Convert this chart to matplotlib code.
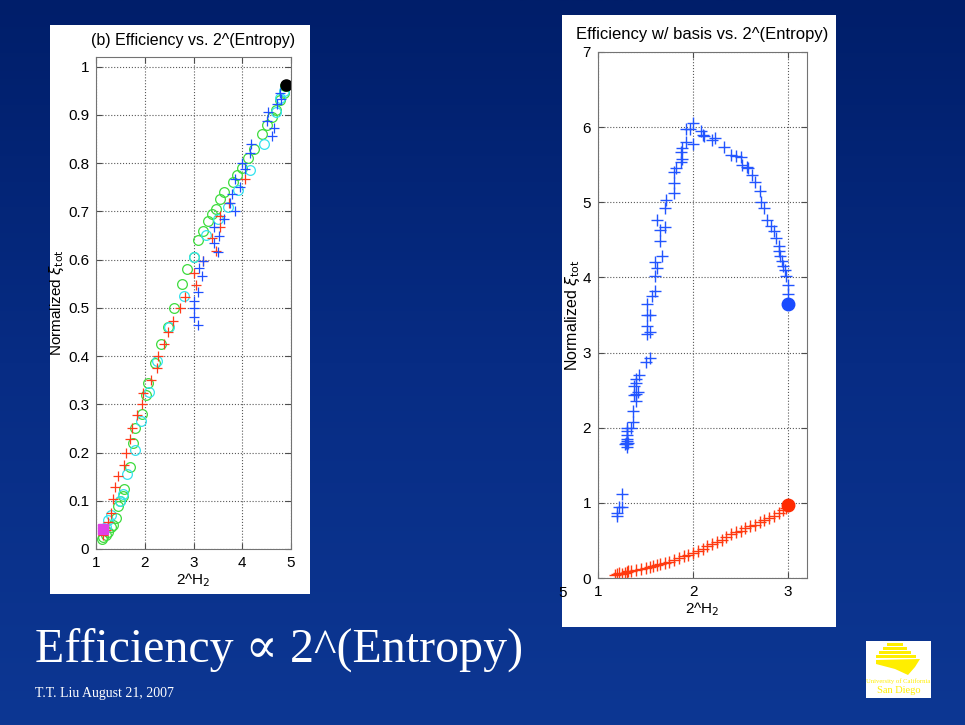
import numpy as np
import matplotlib.pyplot as plt
from matplotlib.patches import Rectangle, Polygon
from matplotlib.colors import LinearSegmentedColormap

plt.rcParams['font.family'] = ['Liberation Sans', 'DejaVu Sans']

# ---- left plot: (b) Efficiency vs. 2^(Entropy) ----
green_x = [1.12, 1.15, 1.2, 1.25, 1.3, 1.35, 1.4, 1.45, 1.5, 1.55, 1.58, 1.7, 1.75, 1.8,
           1.95, 2.03, 2.07, 2.2, 2.33, 2.48, 2.6, 2.77, 2.87, 3.0, 3.1, 3.2, 3.3, 3.37,
           3.47, 3.55, 3.63, 3.8, 3.9, 4.0, 4.12, 4.25, 4.4, 4.5, 4.6, 4.7, 4.78, 4.85, 4.88]
green_y = [0.02, 0.025, 0.03, 0.035, 0.045, 0.05, 0.065, 0.09, 0.1, 0.11, 0.125, 0.17, 0.22, 0.25,
           0.28, 0.32, 0.345, 0.385, 0.425, 0.46, 0.5, 0.55, 0.58, 0.605, 0.64, 0.66, 0.68, 0.695,
           0.705, 0.725, 0.74, 0.76, 0.775, 0.79, 0.81, 0.83, 0.86, 0.88, 0.895, 0.91, 0.93, 0.945, 0.96]
cyan_x = [1.2, 1.25, 1.3, 1.5, 1.55, 1.63, 1.8, 1.93, 2.08, 2.25, 2.5, 2.8, 3.02, 3.25,
          3.5, 3.7, 3.92, 4.15, 4.45, 4.7, 4.78, 4.85]
cyan_y = [0.045, 0.06, 0.07, 0.1, 0.115, 0.155, 0.205, 0.265, 0.325, 0.39, 0.46, 0.525, 0.605, 0.65,
          0.685, 0.71, 0.745, 0.785, 0.84, 0.905, 0.935, 0.95]
red_x = [1.15, 1.2, 1.25, 1.3, 1.35, 1.38, 1.45, 1.58, 1.62, 1.7, 1.73, 1.85, 1.95, 1.97,
         2.12, 2.25, 2.27, 2.4, 2.48, 2.58, 2.72, 2.83, 3.0, 3.05, 3.2, 3.38, 3.47, 3.55,
         3.72, 4.05, 3.55]
red_y = [0.03, 0.04, 0.055, 0.075, 0.103, 0.128, 0.152, 0.175, 0.2, 0.228, 0.25, 0.277, 0.3, 0.323,
         0.35, 0.375, 0.4, 0.425, 0.45, 0.472, 0.5, 0.523, 0.572, 0.548, 0.598, 0.645, 0.618, 0.668,
         0.718, 0.767, 0.69]
blue_x = [3.0, 3.02, 3.0, 3.1, 3.1, 3.18, 3.12, 3.2, 3.42, 3.5, 3.52, 3.42, 3.63, 3.75,
          3.78, 3.85, 3.95, 3.85, 4.0, 4.05, 4.15, 4.18, 4.52, 4.5, 4.6, 4.65, 4.72, 4.78, 4.8]
blue_y = [0.48, 0.5, 0.515, 0.465, 0.533, 0.565, 0.582, 0.597, 0.635, 0.615, 0.648, 0.668, 0.685, 0.718,
          0.735, 0.7, 0.75, 0.768, 0.8, 0.788, 0.82, 0.84, 0.905, 0.888, 0.857, 0.872, 0.922, 0.945, 0.932]
end_pt = (4.9, 0.962)
start_pt = (1.15, 0.042)

# ---- right plot: Efficiency w/ basis vs. 2^(Entropy) ----
bas_x = [1.2, 1.22, 1.25, 1.25, 1.2,
         1.3, 1.3, 1.29, 1.31, 1.3, 1.3, 1.31, 1.3, 1.28, 1.32,
         1.35, 1.37, 1.37, 1.4, 1.4, 1.42, 1.38, 1.38, 1.4, 1.4, 1.43, 1.5, 1.55, 1.55,
         1.52, 1.52, 1.55, 1.52, 1.52, 1.57, 1.6, 1.6, 1.62, 1.6, 1.67, 1.65, 1.65, 1.62,
         1.7, 1.7, 1.72, 1.8, 1.8, 1.8, 1.82, 1.87, 1.88, 1.87, 1.88, 1.93, 1.93, 1.97,
         2.0, 2.0, 2.08, 2.1, 2.12, 2.2, 2.23, 2.33, 2.4, 2.45, 2.5, 2.52, 2.57, 2.58,
         2.62, 2.65, 2.7, 2.72, 2.75, 2.78, 2.82, 2.85, 2.87, 2.9, 2.9, 2.92, 2.94, 2.95,
         2.97, 2.98, 3.0, 3.0]
bas_y = [0.87, 0.95, 0.95, 1.12, 0.83,
         1.75, 1.78, 1.8, 1.82, 1.85, 1.9, 1.95, 2.0, 1.78, 1.8,
         2.0, 2.07, 2.22, 2.35, 2.45, 2.48, 2.43, 2.55, 2.6, 2.65, 2.7, 2.87, 2.93, 3.27,
         3.25, 3.35, 3.5, 3.5, 3.65, 3.75, 3.82, 4.02, 4.13, 4.2, 4.28, 4.48, 4.63, 4.77,
         4.67, 4.93, 5.03, 5.13, 5.25, 5.4, 5.45, 5.53, 5.57, 5.67, 5.72, 5.8, 5.97, 5.97,
         6.05, 5.78, 5.95, 5.9, 5.88, 5.83, 5.85, 5.73, 5.63, 5.62, 5.6, 5.5, 5.47, 5.45,
         5.36, 5.27, 5.15, 5.0, 4.92, 4.77, 4.68, 4.62, 4.52, 4.42, 4.35, 4.28, 4.22, 4.15,
         4.1, 4.02, 3.9, 3.78]
nob_x = [1.18, 1.2, 1.22, 1.25, 1.28, 1.3, 1.32, 1.35, 1.4, 1.45, 1.5, 1.55, 1.58, 1.62,
         1.65, 1.7, 1.75, 1.8, 1.85, 1.9, 1.95, 2.0, 2.05, 2.1, 2.15, 2.2, 2.25, 2.3,
         2.35, 2.4, 2.45, 2.5, 2.55, 2.6, 2.65, 2.7, 2.75, 2.8, 2.85, 2.9, 2.95, 2.98]
nob_y = [0.04, 0.05, 0.06, 0.05, 0.07, 0.08, 0.09, 0.09, 0.1, 0.12, 0.13, 0.15, 0.16, 0.17,
         0.19, 0.2, 0.21, 0.24, 0.26, 0.29, 0.31, 0.33, 0.36, 0.39, 0.42, 0.45, 0.48, 0.51,
         0.55, 0.58, 0.61, 0.63, 0.66, 0.69, 0.71, 0.74, 0.77, 0.8, 0.83, 0.87, 0.9, 0.93]
bas_end = (3.0, 3.65)
nob_end = (3.0, 0.97)

fig = plt.figure(figsize=(9.65, 7.25), dpi=100)

# slide background
bg = fig.add_axes([0, 0, 1, 1], zorder=-10)
grad = np.linspace(0, 1, 256).reshape(-1, 1)
cm = LinearSegmentedColormap.from_list('slide', ['#001e6a', '#072c84', '#0d3793'])
bg.imshow(grad, aspect='auto', cmap=cm, extent=[0, 1, 0, 1], origin='upper')
bg.set_axis_off()

W, H = 965.0, 725.0
def fx(px):
    return px / W
def fy(py):
    return 1 - py / H

# white panels
fig.patches.append(Rectangle((fx(50), fy(594)), 260 / W, 569 / H, transform=fig.transFigure,
                             facecolor='white', edgecolor='none', zorder=-5))
fig.patches.append(Rectangle((fx(562), fy(627)), 274 / W, 612 / H, transform=fig.transFigure,
                             facecolor='white', edgecolor='none', zorder=-5))

def style(ax):
    ax.set_facecolor('white')
    ax.grid(True, linestyle=':', color='0.35', linewidth=0.8)
    ax.tick_params(direction='in', top=True, right=True, length=4, labelsize=11, pad=5,
                   color='0.3')
    for s in ax.spines.values():
        s.set_color('0.45')
        s.set_linewidth(0.8)
    ax.set_axisbelow(True)

# left axes
ax1 = fig.add_axes([fx(96), fy(549), 195 / W, 492 / H])
style(ax1)
ax1.plot(green_x, green_y, 'o', mfc='none', mec='#3ddc3d', ms=7, mew=0.9)
ax1.plot(cyan_x, cyan_y, 'o', mfc='none', mec='#33e2ee', ms=7, mew=0.9)
ax1.plot(red_x, red_y, '+', color='#ff3a1a', ms=7.5, mew=0.9)
ax1.plot(blue_x, blue_y, '+', color='#2050ff', ms=7.5, mew=0.9)
ax1.plot(*end_pt, 'o', color='black', ms=8)
ax1.plot(*start_pt, 's', color='#e040e8', ms=7)
ax1.set_xlim(1, 5)
ax1.set_ylim(0, 1.02)
ax1.set_xticks([1, 2, 3, 4, 5])
ax1.set_yticks(np.arange(0, 1.01, 0.1))
ax1.set_yticklabels(['0', '0.1', '0.2', '0.3', '0.4', '0.5', '0.6', '0.7', '0.8', '0.9', '1'])
ax1.set_title('(b) Efficiency vs. 2^(Entropy)', fontsize=11.5, pad=9)
ax1.set_xlabel(r'2^H$_2$', fontsize=11, labelpad=1)
ax1.set_ylabel(r'Normalized $\xi_{\mathrm{tot}}$', fontsize=11)
ax1.yaxis.set_label_coords(-0.152, 0.5)

# right axes
ax2 = fig.add_axes([fx(598), fy(578), 209 / W, 526 / H])
style(ax2)
ax2.plot(bas_x, bas_y, '+', color='#2255ff', ms=8, mew=1.0)
ax2.plot(nob_x, nob_y, '+', color='#ff3a10', ms=8, mew=1.0)
ax2.plot(*bas_end, 'o', color='#1a4cff', ms=9)
ax2.plot(*nob_end, 'o', color='#ff2a00', ms=9)
ax2.set_xlim(1, 3.2)
ax2.set_ylim(0, 7)
ax2.set_xticks([1, 2, 3])
ax2.set_yticks(range(0, 8))
ax2.set_title('Efficiency w/ basis vs. 2^(Entropy)', fontsize=12, pad=9)
ax2.set_xlabel(r'2^H$_2$', fontsize=11, labelpad=1)
ax2.set_ylabel(r'Normalized $\xi_{\mathrm{tot}}$', fontsize=11.5)
ax2.yaxis.set_label_coords(-0.075, 0.5)

# stray tick label left of right panel
fig.text(fx(563), fy(593), '5', fontsize=11, ha='center', va='center', color='black')

# slide text
fig.text(fx(35), fy(650), 'Efficiency \u221d 2^(Entropy)', fontsize=34.5, color='white',
         va='center', ha='left', family=['Liberation Serif', 'DejaVu Serif'])
fig.text(fx(35), fy(693), 'T.T. Liu August 21, 2007', fontsize=10, color='white',
         va='center', ha='left', family=['Liberation Serif', 'DejaVu Serif'])

# UCSD logo
fig.patches.append(Rectangle((fx(866), fy(698)), 65 / W, 57 / H, transform=fig.transFigure,
                             facecolor='white', edgecolor='none'))
for (x0, y0, w) in [(887, 643, 16), (883, 647, 24), (879, 651, 32), (876, 655, 40)]:
    fig.patches.append(Rectangle((fx(x0), fy(y0 + 2.5)), w / W, 2.5 / H, transform=fig.transFigure,
                                 facecolor='#ffee00', edgecolor='none'))
fig.patches.append(Polygon([(fx(876), fy(660)), (fx(920), fy(659)), (fx(915), fy(667)),
                            (fx(908), fy(675)), (fx(895), fy(669)), (fx(876), fy(664))],
                           closed=True, transform=fig.transFigure, facecolor='#ffee00',
                           edgecolor='none'))
fig.text(fx(898.5), fy(681), 'University of California', fontsize=4.8, color='#ffee00',
         ha='center', va='center', family=['Liberation Serif', 'DejaVu Serif'])
fig.text(fx(898.5), fy(690.5), 'San Diego', fontsize=7.5, color='#ffee00',
         ha='center', va='center', family=['Liberation Serif', 'DejaVu Serif'])

fig.savefig('out.png', dpi=100)
